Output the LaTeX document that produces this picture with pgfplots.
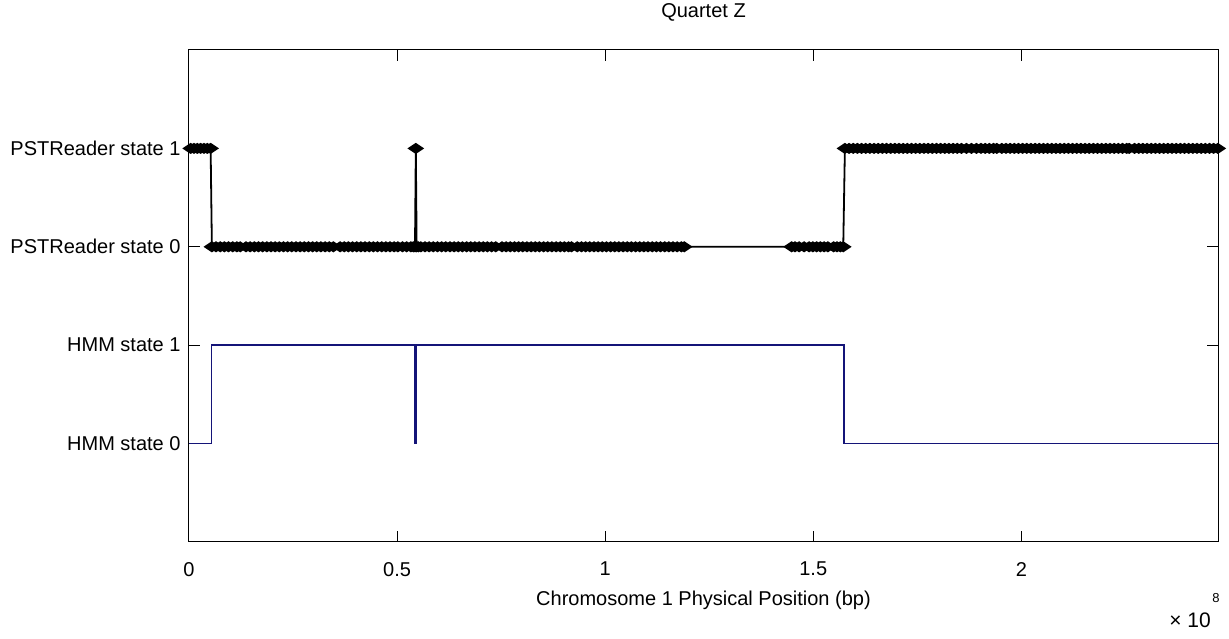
\documentclass[border=0pt]{standalone}
\usepackage{fontspec}
\setmainfont{Liberation Sans}
\usepackage{pgfplots}
\pgfplotsset{compat=1.18}
\usetikzlibrary{calc}
\definecolor{hmmblue}{RGB}{20,20,120}
\begin{document}
\begin{tikzpicture}
\begin{axis}[
  name=ax,
  scale only axis,
  width=514.5pt, height=246pt,
  xmin=0, xmax=2.4725,
  ymin=-1, ymax=4,
  clip=false,
  font=\fontsize{10}{12}\selectfont,
  /pgf/number format/assume math mode=true,
  tick align=inside,
  major tick length=5.5pt,
  tick pos=both,
  xticklabel pos=lower, yticklabel pos=left,
  xtick={0,0.5,1,1.5,2},
  xticklabels={0,0.5,1,1.5,2},
  scaled x ticks=false,
  ytick={0,1,2,3},
  yticklabels={HMM state 0,HMM state 1,PSTReader state 0,PSTReader state 1},
  xticklabel style={yshift=-6.5pt},
  yticklabel style={xshift=-0.7pt},
  axis line style={black, line width=0.5pt},
  tick style={black, line width=0.5pt},
  xlabel={Chromosome 1 Physical Position (bp)},
  xlabel style={at={(0.5,0)}, anchor=center, yshift=-29pt},
]
% HMM state path
\addplot[hmmblue, line width=0.8pt] coordinates {
(0,0)(0.054,0)(0.054,1)(0.543,1)(0.543,0)(0.547,0)(0.547,1)(1.574,1)(1.574,0)(2.4725,0)
};
% PSTReader calls
\addplot[black, line width=0.9pt, mark=diamond*, mark size=2.25pt,
  mark options={solid, fill=black, xscale=2}] coordinates {
(0.004,3)(0.012,3)(0.020,3)(0.028,3)(0.036,3)(0.044,3)(0.052,3)
(0.055,2)(0.065,2)(0.075,2)(0.085,2)(0.095,2)(0.105,2)(0.115,2)(0.123,2)
(0.137,2)(0.147,2)(0.157,2)(0.167,2)(0.177,2)(0.187,2)(0.197,2)(0.207,2)(0.217,2)(0.227,2)
(0.237,2)(0.247,2)(0.257,2)(0.267,2)(0.277,2)(0.287,2)(0.297,2)(0.307,2)(0.317,2)(0.327,2)
(0.337,2)(0.347,2)
(0.363,2)(0.373,2)(0.383,2)(0.393,2)(0.403,2)(0.413,2)(0.423,2)(0.433,2)(0.443,2)(0.453,2)
(0.463,2)(0.473,2)(0.483,2)(0.493,2)(0.502,2)
(0.513,2)
(0.523,2)(0.533,2)(0.539,2)(0.543,2)(0.545,3)(0.547,2)(0.551,2)
(0.557,2)(0.567,2)(0.577,2)(0.587,2)(0.597,2)(0.607,2)(0.617,2)(0.627,2)(0.637,2)(0.647,2)
(0.657,2)(0.667,2)(0.677,2)(0.687,2)(0.697,2)(0.707,2)(0.717,2)(0.727,2)(0.737,2)
(0.752,2)(0.762,2)(0.772,2)(0.782,2)(0.792,2)(0.802,2)(0.812,2)(0.822,2)(0.832,2)(0.842,2)
(0.852,2)(0.862,2)(0.872,2)(0.882,2)(0.892,2)(0.902,2)(0.912,2)(0.919,2)
(0.933,2)(0.943,2)(0.953,2)(0.963,2)(0.973,2)(0.983,2)(0.993,2)(1.003,2)(1.013,2)(1.023,2)
(1.033,2)(1.043,2)(1.053,2)(1.063,2)(1.073,2)(1.083,2)(1.093,2)(1.103,2)(1.113,2)(1.123,2)
(1.133,2)(1.143,2)(1.153,2)(1.163,2)(1.173,2)(1.183,2)(1.19,2)
(1.448,2)(1.456,2)(1.466,2)(1.478,2)(1.49,2)(1.499,2)(1.508,2)(1.517,2)(1.526,2)(1.535,2)
(1.549,2)(1.557,2)(1.565,2)(1.572,2)
(1.576,3)(1.586,3)(1.596,3)(1.606,3)(1.616,3)(1.626,3)(1.636,3)(1.646,3)(1.656,3)(1.666,3)
(1.676,3)(1.686,3)(1.696,3)(1.706,3)(1.716,3)(1.726,3)(1.736,3)(1.746,3)(1.756,3)(1.766,3)
(1.776,3)(1.786,3)(1.796,3)(1.806,3)(1.816,3)(1.826,3)(1.836,3)(1.846,3)(1.856,3)
(1.868,3)(1.88,3)(1.892,3)(1.903,3)(1.913,3)(1.923,3)(1.933,3)(1.941,3)
(1.953,3)(1.963,3)(1.973,3)(1.983,3)(1.993,3)(2.003,3)(2.013,3)(2.023,3)(2.033,3)(2.043,3)
(2.053,3)(2.063,3)(2.073,3)(2.083,3)(2.093,3)(2.103,3)(2.113,3)(2.123,3)(2.133,3)(2.143,3)
(2.153,3)(2.163,3)(2.173,3)(2.183,3)(2.193,3)(2.203,3)(2.213,3)(2.223,3)(2.233,3)(2.243,3)
(2.253,3)(2.259,3)
(2.272,3)(2.282,3)(2.292,3)(2.302,3)(2.312,3)(2.322,3)(2.332,3)(2.342,3)(2.352,3)(2.362,3)
(2.372,3)(2.382,3)(2.392,3)(2.402,3)(2.412,3)(2.422,3)(2.432,3)(2.442,3)(2.452,3)(2.462,3)(2.472,3)
};
\end{axis}
\node[font=\fontsize{10}{12}\selectfont, anchor=center] at ($(ax.north)+(0,19pt)$) {Quartet Z};
% MATLAB-style axis multiplier
\node[font=\fontsize{10.5}{12}\selectfont, anchor=center] at ($(ax.south east)+(-14pt,-39pt)$) {× 10};
\node[font=\fontsize{6.5}{8}\selectfont, anchor=center] at ($(ax.south east)+(-1pt,-28pt)$) {8};
\pgfresetboundingbox
\path[use as bounding box] ($(ax.south west)+(-94.5pt,-48.5pt)$) rectangle ($(ax.north east)+(5.5pt,25pt)$);
\end{tikzpicture}
\end{document}
